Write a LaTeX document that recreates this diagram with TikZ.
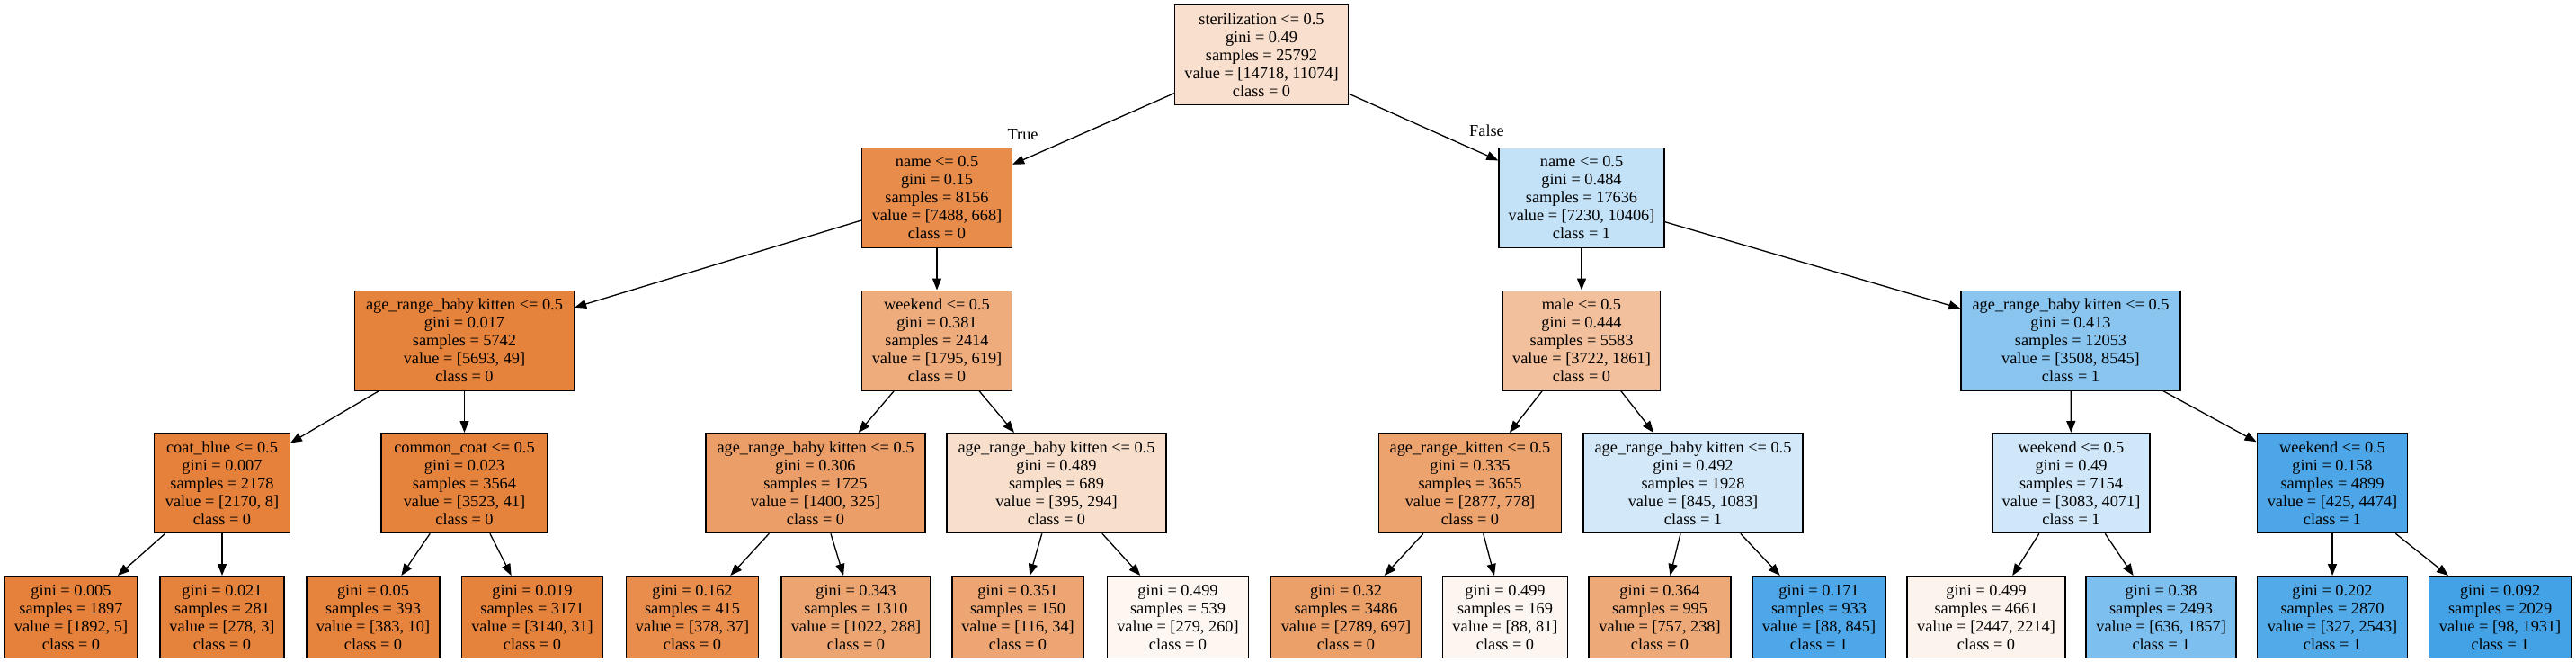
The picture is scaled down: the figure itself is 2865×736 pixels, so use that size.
\documentclass[tikz,border=0pt]{standalone}
\usepackage{fontspec}
\setmainfont{Liberation Serif}
\usetikzlibrary{arrows.meta}
\newcommand\treefs{\fontsize{18.3}{20}\selectfont}
\definecolor{cA}{HTML}{F9E0CE}
\definecolor{cB}{HTML}{E78C4B}
\definecolor{cC}{HTML}{C3E1F7}
\definecolor{cD}{HTML}{E5823B}
\definecolor{cE}{HTML}{EEAC7D}
\definecolor{cF}{HTML}{F2C09C}
\definecolor{cG}{HTML}{8AC5F0}
\definecolor{cH}{HTML}{E5813A}
\definecolor{cI}{HTML}{EB9E67}
\definecolor{cJ}{HTML}{F8DFCC}
\definecolor{cK}{HTML}{ECA36E}
\definecolor{cL}{HTML}{D3E9F9}
\definecolor{cM}{HTML}{CFE7F9}
\definecolor{cN}{HTML}{4CA6E7}
\definecolor{cO}{HTML}{E6843E}
\definecolor{cP}{HTML}{E88D4C}
\definecolor{cQ}{HTML}{ECA571}
\definecolor{cR}{HTML}{EDA673}
\definecolor{cS}{HTML}{FDF6F1}
\definecolor{cT}{HTML}{EBA06A}
\definecolor{cU}{HTML}{FDF5EF}
\definecolor{cV}{HTML}{EDA977}
\definecolor{cW}{HTML}{4EA7E8}
\definecolor{cX}{HTML}{FCF3EC}
\definecolor{cY}{HTML}{7DBFEE}
\definecolor{cZ}{HTML}{52AAE8}
\definecolor{cAA}{HTML}{43A2E6}
\tikzset{
  tn/.style={draw=black, line width=1.3pt, align=center, inner sep=0pt,
    anchor=north, font=\treefs, minimum height=111pt},
  lf/.style={tn, minimum height=91pt},
  ed/.style={-{Triangle[length=13pt,width=10pt]}, line width=1.3pt, draw=black},
  lbl/.style={font=\treefs, inner sep=0pt}
}
\begin{document}
\begin{tikzpicture}[x=1pt,y=-1pt]
\fill[white] (0,0) rectangle (2865,736);
\useasboundingbox (0,0) rectangle (2865,736);
% level 0
\node[tn, fill=cA, minimum width=193pt] (n0) at (1403,5) {sterilization <= 0.5\\gini = 0.49\\samples = 25792\\value = [14718, 11074]\\class = 0};
% level 1
\node[tn, fill=cB, minimum width=167pt] (n1) at (1042,163.5) {name <= 0.5\\gini = 0.15\\samples = 8156\\value = [7488, 668]\\class = 0};
\node[tn, fill=cC, minimum width=184pt] (n2) at (1759,163.5) {name <= 0.5\\gini = 0.484\\samples = 17636\\value = [7230, 10406]\\class = 1};
% level 2
\node[tn, fill=cD, minimum width=244pt] (n3) at (516.5,322.5) {age\_range\_baby kitten <= 0.5\\gini = 0.017\\samples = 5742\\value = [5693, 49]\\class = 0};
\node[tn, fill=cE, minimum width=167pt] (n4) at (1042,322.5) {weekend <= 0.5\\gini = 0.381\\samples = 2414\\value = [1795, 619]\\class = 0};
\node[tn, fill=cF, minimum width=174.5pt] (n5) at (1759,322.5) {male <= 0.5\\gini = 0.444\\samples = 5583\\value = [3722, 1861]\\class = 0};
\node[tn, fill=cG, minimum width=244pt] (n6) at (2303,322.5) {age\_range\_baby kitten <= 0.5\\gini = 0.413\\samples = 12053\\value = [3508, 8545]\\class = 1};
% level 3
\node[tn, fill=cH, minimum width=150.5pt] (n7) at (247,481) {coat\_blue <= 0.5\\gini = 0.007\\samples = 2178\\value = [2170, 8]\\class = 0};
\node[tn, fill=cD, minimum width=185pt] (n8) at (516.5,481) {common\_coat <= 0.5\\gini = 0.023\\samples = 3564\\value = [3523, 41]\\class = 0};
\node[tn, fill=cI, minimum width=244pt] (n9) at (907,481) {age\_range\_baby kitten <= 0.5\\gini = 0.306\\samples = 1725\\value = [1400, 325]\\class = 0};
\node[tn, fill=cJ, minimum width=244pt] (n10) at (1175,481) {age\_range\_baby kitten <= 0.5\\gini = 0.489\\samples = 689\\value = [395, 294]\\class = 0};
\node[tn, fill=cK, minimum width=203pt] (n11) at (1635,481) {age\_range\_kitten <= 0.5\\gini = 0.335\\samples = 3655\\value = [2877, 778]\\class = 0};
\node[tn, fill=cL, minimum width=244pt] (n12) at (1883,481) {age\_range\_baby kitten <= 0.5\\gini = 0.492\\samples = 1928\\value = [845, 1083]\\class = 1};
\node[tn, fill=cM, minimum width=175pt] (n13) at (2303.5,481) {weekend <= 0.5\\gini = 0.49\\samples = 7154\\value = [3083, 4071]\\class = 1};
\node[tn, fill=cN, minimum width=167.5pt] (n14) at (2594,481) {weekend <= 0.5\\gini = 0.158\\samples = 4899\\value = [425, 4474]\\class = 1};
% leaves
\node[lf, fill=cH, minimum width=148pt] (l1) at (79,640) {gini = 0.005\\samples = 1897\\value = [1892, 5]\\class = 0};
\node[lf, fill=cD, minimum width=138pt] (l2) at (247,640) {gini = 0.021\\samples = 281\\value = [278, 3]\\class = 0};
\node[lf, fill=cO, minimum width=148pt] (l3) at (415,640) {gini = 0.05\\samples = 393\\value = [383, 10]\\class = 0};
\node[lf, fill=cD, minimum width=157pt] (l4) at (592,640) {gini = 0.019\\samples = 3171\\value = [3140, 31]\\class = 0};
\node[lf, fill=cP, minimum width=147pt] (l5) at (770,640) {gini = 0.162\\samples = 415\\value = [378, 37]\\class = 0};
\node[lf, fill=cQ, minimum width=166pt] (l6) at (952,640) {gini = 0.343\\samples = 1310\\value = [1022, 288]\\class = 0};
\node[lf, fill=cR, minimum width=146pt] (l7) at (1132,640) {gini = 0.351\\samples = 150\\value = [116, 34]\\class = 0};
\node[lf, fill=cS, minimum width=157pt] (l8) at (1310,640) {gini = 0.499\\samples = 539\\value = [279, 260]\\class = 0};
\node[lf, fill=cT, minimum width=168pt] (l9) at (1497,640) {gini = 0.32\\samples = 3486\\value = [2789, 697]\\class = 0};
\node[lf, fill=cU, minimum width=139pt] (l10) at (1674,640) {gini = 0.499\\samples = 169\\value = [88, 81]\\class = 0};
\node[lf, fill=cV, minimum width=158pt] (l11) at (1846,640) {gini = 0.364\\samples = 995\\value = [757, 238]\\class = 0};
\node[lf, fill=cW, minimum width=148pt] (l12) at (2023,640) {gini = 0.171\\samples = 933\\value = [88, 845]\\class = 1};
\node[lf, fill=cX, minimum width=176pt] (l13) at (2209,640) {gini = 0.499\\samples = 4661\\value = [2447, 2214]\\class = 0};
\node[lf, fill=cY, minimum width=167pt] (l14) at (2403.6,640) {gini = 0.38\\samples = 2493\\value = [636, 1857]\\class = 1};
\node[lf, fill=cZ, minimum width=167pt] (l15) at (2594,640) {gini = 0.202\\samples = 2870\\value = [327, 2543]\\class = 1};
\node[lf, fill=cAA, minimum width=158pt] (l16) at (2780.6,640) {gini = 0.092\\samples = 2029\\value = [98, 1931]\\class = 1};
% edge labels
\node[lbl] (tl) at (1137.6,150) {True};
\node[lbl] (fl) at (1653.5,145.5) {False};
% edges
\draw[ed] (n0) -- (n1);
\draw[ed] (n0) -- (n2);
\draw[ed] (n1) -- (n3);
\draw[ed] (n1) -- (n4);
\draw[ed] (n2) -- (n5);
\draw[ed] (n2) -- (n6);
\draw[ed] (n3) -- (n7);
\draw[ed] (n3) -- (n8);
\draw[ed] (n4) -- (n9);
\draw[ed] (n4) -- (n10);
\draw[ed] (n5) -- (n11);
\draw[ed] (n5) -- (n12);
\draw[ed] (n6) -- (n13);
\draw[ed] (n6) -- (n14);
\draw[ed] (n7) -- (l1);
\draw[ed] (n7) -- (l2);
\draw[ed] (n8) -- (l3);
\draw[ed] (n8) -- (l4);
\draw[ed] (n9) -- (l5);
\draw[ed] (n9) -- (l6);
\draw[ed] (n10) -- (l7);
\draw[ed] (n10) -- (l8);
\draw[ed] (n11) -- (l9);
\draw[ed] (n11) -- (l10);
\draw[ed] (n12) -- (l11);
\draw[ed] (n12) -- (l12);
\draw[ed] (n13) -- (l13);
\draw[ed] (n13) -- (l14);
\draw[ed] (n14) -- (l15);
\draw[ed] (n14) -- (l16);
\end{tikzpicture}
\end{document}
